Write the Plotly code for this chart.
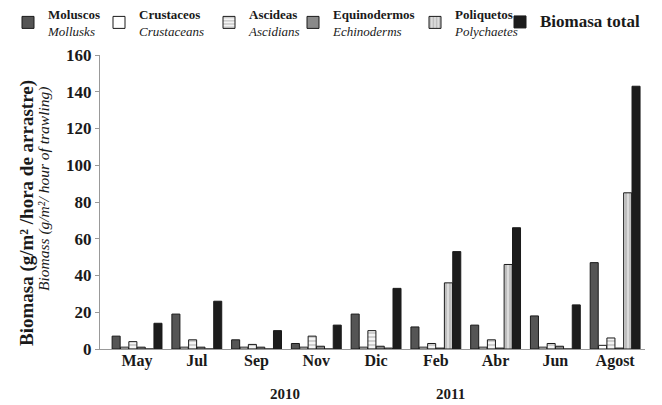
import plotly.graph_objects as go

months = ["May", "Jul", "Sep", "Nov", "Dic", "Feb", "Abr", "Jun", "Agost"]
moluscos = [7, 19, 5, 3, 19, 12, 13, 18, 47]
crustaceos = [1, 1, 1, 1, 1, 1, 1, 1, 2]
ascideas = [4, 5, 2.5, 7, 10, 3, 5, 3, 6]
equinodermos = [1, 1, 1, 1.5, 1.5, 0.5, 0.5, 1.5, 0.5]
poliquetos = [0, 0, 0, 0, 0.5, 36, 46, 0, 85]
total = [14, 26, 10, 13, 33, 53, 66, 24, 143]
years = ["2010", "2011"]

# page body has an 8px margin, so the figure is 8px smaller than the window
W, H = 654, 397
L, R, T, B = 92, 17, 47, 56
OFF = 8
pw, ph = W - L - R, H - T - B
def px(x):  # screen x -> paper
    return (x - OFF - L) / pw
def py(y):  # screen y -> paper
    return (H - B - (y - OFF)) / ph

series = [
    ("<b>Moluscos</b><br><i>Mollusks</i>", moluscos, "#555555", "", 0),
    ("<b>Crustaceos</b><br><i>Crustaceans</i>", crustaceos, "#ffffff", "", 91),
    ("<b>Ascideas</b><br><i>Ascidians</i>", ascideas, "#f4f4f4", "-", 201),
    ("<b>Equinodermos</b><br><i>Echinoderms</i>", equinodermos, "#8a8a8a", "", 285),
    ("<b>Poliquetos</b><br><i>Polychaetes</i>", poliquetos, "#dcdcdc", "|", 407),
    ("<b><span style='font-size:17px'>Biomasa total</span></b>", total, "#1c1c1c", "", 492),
]

fig = go.Figure()
layout_legends = {}
for i, (name, vals, col, pat, lx) in enumerate(series):
    key = "legend" if i == 0 else f"legend{i+1}"
    fig.add_trace(go.Bar(
        x=months, y=vals, name=name, legend=key,
        marker=dict(color=col, line=dict(color="#1a1a1a", width=1),
                    pattern=dict(shape=pat, fgcolor="#777777", size=4, solidity=0.3)),
    ))
    single = i == 5
    layout_legends[key] = dict(
        orientation="h", x=lx / W, xref="container", xanchor="left",
        y=py(7) if single else py(-1), yref="paper", yanchor="top",
        font=dict(size=13, family="Liberation Serif", color="#1a1a1a"),
        itemwidth=30, bgcolor="rgba(0,0,0,0)", borderwidth=0,
        itemclick=False, itemdoubleclick=False,
    )

fig.update_layout(
    width=W, height=H,
    margin=dict(l=L, r=R, t=T, b=B, autoexpand=False),
    paper_bgcolor="white", plot_bgcolor="white",
    barmode="group", bargap=0.16, bargroupgap=0.04,
    font=dict(family="Liberation Serif", color="#1a1a1a"),
    showlegend=True,
    xaxis=dict(range=[-0.62, 8.5], showline=True, linecolor="#999999", linewidth=1,
               ticks="", tickfont=dict(size=16, family="Liberation Serif"),
               tickprefix="<b>", ticksuffix="</b>", showgrid=False,
               ticklabelstandoff=-3),
    yaxis=dict(range=[0, 160], dtick=20, showline=True, linecolor="#999999", linewidth=1,
               ticks="outside", ticklen=4, tickcolor="#999999", showgrid=False,
               tickfont=dict(size=17, family="Liberation Serif"),
               tickprefix="<b>", ticksuffix="</b>", zeroline=False),
    **layout_legends,
)

# y-axis title (two lines, placed separately)
fig.add_annotation(text="<b>Biomasa (g/m² /hora de arrastre)</b>", x=px(27), y=py(213),
                   xref="paper", yref="paper", textangle=-90, showarrow=False,
                   xanchor="center", yanchor="middle",
                   font=dict(size=19, family="Liberation Serif"))
fig.add_annotation(text="<i>Biomass (g/m²/ hour of trawling)</i>", x=px(44), y=py(189),
                   xref="paper", yref="paper", textangle=-90, showarrow=False,
                   xanchor="center", yanchor="middle",
                   font=dict(size=15.5, family="Liberation Serif"))
# year labels
for yr, xp in zip(years, [285, 450]):
    fig.add_annotation(text=f"<b>{yr}</b>", x=px(xp), y=py(394), xref="paper", yref="paper",
                       xanchor="center", yanchor="middle",
                       showarrow=False, font=dict(size=15, family="Liberation Serif"))

fig.write_html("out.html")
